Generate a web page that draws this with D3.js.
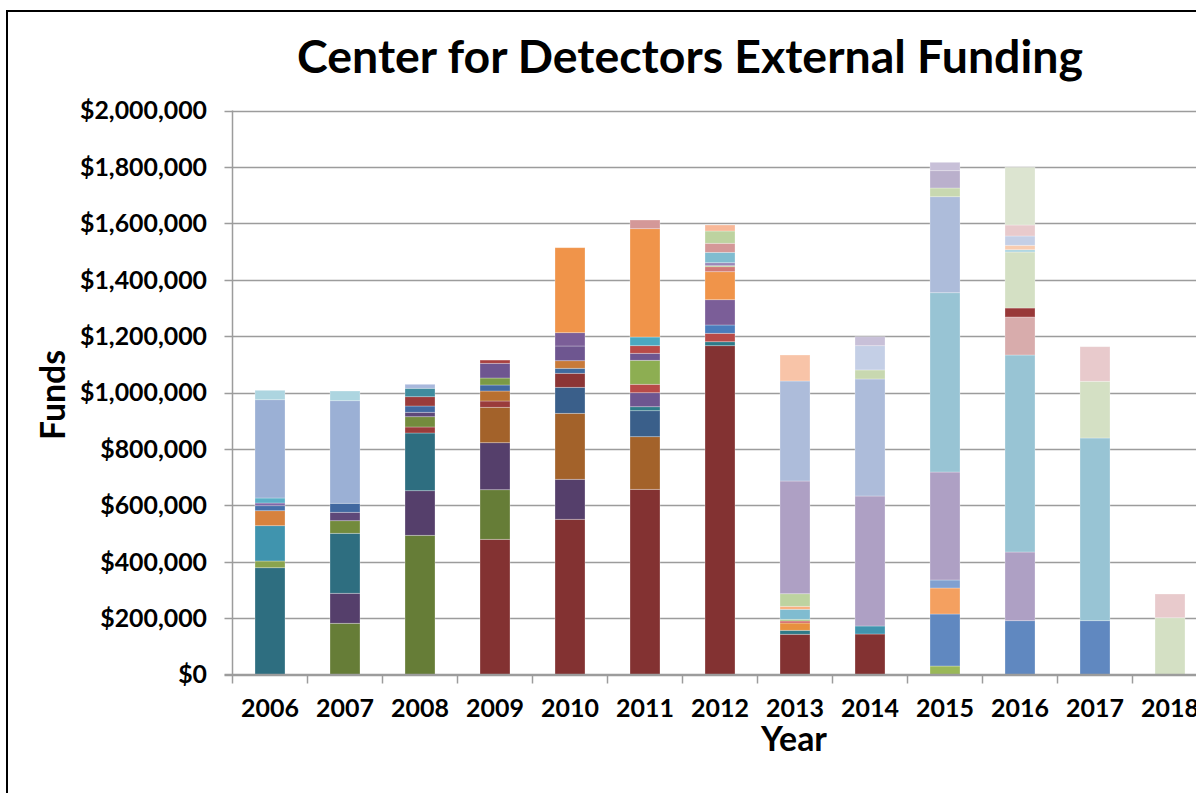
<!DOCTYPE html>
<html>
<head>
<meta charset="utf-8">
<script src="https://cdn.jsdelivr.net/npm/d3@7"></script>
<style>
  html, body { margin: 0; padding: 0; background: #fff; }
  svg { display: block; }
  text { font-family: Lato, "Open Sans", sans-serif; font-weight: 700; fill: #000; }
</style>
</head>
<body>
<svg id="chart" width="1196" height="793"></svg>
<script>
// ---------- DATA ----------
const years = ["2006","2007","2008","2009","2010","2011","2012","2013","2014","2015","2016","2017","2018"];
const yTicks = [0, 200000, 400000, 600000, 800000, 1000000, 1200000, 1400000, 1600000, 1800000, 2000000];

// funding segments per year, bottom to top
const values = [
  [378700, 23800, 125200, 53200, 17700, 9600, 17700, 348600, 33300],
  [181600, 106400, 212700, 44700, 29800, 31900, 363800, 34400],
  [493600, 158200, 204600, 21300, 36500, 15600, 22300, 33000, 29800, 14200],
  [479400, 175900, 166700, 125500, 22400, 35400, 21300, 24800, 52100, 11500],
  [550400, 141800, 234000, 92200, 49700, 17700, 27000, 52100, 47200, 301400],
  [656700, 186600, 92200, 14100, 49700, 29800, 85100, 24800, 27000, 30800, 384100, 30800],
  [1166000, 14100, 29800, 29500, 89700, 99300, 17700, 3500, 10700, 36700, 32100, 43600, 21300],
  [142600, 14100, 25900, 7100, 5900, 35600, 10600, 44700, 399700, 354600, 92200],
  [143600, 28400, 461000, 415000, 32000, 86000, 31900],
  [30100, 184400, 92200, 28400, 382900, 635900, 340400, 30900, 61300, 29800],
  [190800, 243600, 698600, 134700, 31900, 198600, 8200, 15600, 33000, 39000, 204600],
  [190800, 647900, 201000, 122700],
  [201400, 84100]
];

// funding source of each segment (same order as values)
const sources = [
  ["s01","s02","s03","s04","s05","s06","s07","s08","s09"],
  ["s10","s11","s01","s12","s13","s14","s08","s09"],
  ["s10","s11","s01","s15","s12","s13","s14","s15","s16","s17"],
  ["s18","s10","s11","s19","s15","s20","s14","s21","s22","s23"],
  ["s18","s11","s19","s24","s25","s26","s27","s22","s28","s29"],
  ["s18","s19","s24","s30","s22","s31","s32","s22","s31","s33","s29","s34"],
  ["s18","s30","s31","s35","s28","s29","s36","s37","s38","s39","s34","s40","s41"],
  ["s18","s30","s42","s43","s44","s39","s45","s40","s46","s47","s48"],
  ["s18","s03","s46","s47","s49","s50","s51"],
  ["s52","s53","s54","s55","s46","s56","s47","s49","s57","s51"],
  ["s53","s46","s56","s58","s59","s60","s09","s61","s50","s62","s63"],
  ["s53","s56","s60","s62"],
  ["s60","s62"]
];

// ---------- STYLE ----------
const palette = {
  s01:"#2E6E80", s02:"#8AA44E", s03:"#4094AE", s04:"#D7823E", s05:"#4670AA",
  s06:"#8068A8", s07:"#5BB0C8", s08:"#9BB0D5", s09:"#ADD5E0", s10:"#667D37",
  s11:"#553F6B", s12:"#738B3D", s13:"#5E4879", s14:"#4168A0", s15:"#9A3B3B",
  s16:"#3F8C9E", s17:"#A8B8DC", s18:"#833232", s19:"#A3622A", s20:"#B87030",
  s21:"#7A9A46", s22:"#6E5690", s23:"#A84040", s24:"#3A5F8A", s25:"#8C3535",
  s26:"#3F6A9E", s27:"#C87A3A", s28:"#7B5E98", s29:"#F0944A", s30:"#2E7A88",
  s31:"#B84A48", s32:"#8DAE52", s33:"#4AA8C0", s34:"#D49898", s35:"#4A7CBC",
  s36:"#D07A78", s37:"#A0C070", s38:"#9A88B8", s39:"#80BCD0", s40:"#BDD3A0",
  s41:"#F8B898", s42:"#E8903E", s43:"#D06060", s44:"#A8C880", s45:"#F8B080",
  s46:"#AEA0C4", s47:"#ADBCDA", s48:"#F8C4A8", s49:"#C8D8B0", s50:"#C4CFE6",
  s51:"#C8C0D8", s52:"#9AB858", s53:"#6088C0", s54:"#F4A060", s55:"#80A0D0",
  s56:"#98C4D4", s57:"#BAB0CC", s58:"#D8ACAC", s59:"#983838", s60:"#D4E0C4",
  s61:"#F8CCB0", s62:"#E8CACC", s63:"#DCE4D0"
};

// ---------- LAYOUT ----------
const svg = d3.select("#chart");
const plotLeft = 232.5, plotRight = 1207.5, plotTop = 110.5, plotBottom = 674.5;

const x = d3.scaleBand().domain(years).range([plotLeft, plotRight]).paddingInner(0.6).paddingOuter(0.3);
const y = d3.scaleLinear().domain([0, 2000000]).range([plotBottom, plotTop]);

// outer frame
svg.append("rect").attr("x", 7).attr("y", 11).attr("width", 1300).attr("height", 900)
  .attr("fill", "none").attr("stroke", "#000").attr("stroke-width", 2);

// gridlines + y ticks
const grid = svg.append("g").attr("class", "grid");
grid.selectAll("line").data(yTicks).join("line")
  .attr("x1", plotLeft - 8).attr("x2", plotRight)
  .attr("y1", d => Math.round(y(d)) + 0.5).attr("y2", d => Math.round(y(d)) + 0.5)
  .attr("stroke", "#9c9c9c").attr("stroke-width", 1.5);

// y axis line
svg.append("line").attr("x1", plotLeft).attr("x2", plotLeft).attr("y1", plotTop).attr("y2", plotBottom)
  .attr("stroke", "#9c9c9c").attr("stroke-width", 1.5);

// bars
const barsG = svg.append("g");
years.forEach((yr, i) => {
  let cum = 0;
  const segs = values[i].map((v, j) => { const s = { y0: cum, y1: cum + v, src: sources[i][j] }; cum += v; return s; });
  barsG.append("g").selectAll("rect").data(segs).join("rect")
    .attr("x", x(yr))
    .attr("width", x.bandwidth())
    .attr("y", d => y(d.y1))
    .attr("height", d => y(d.y0) - y(d.y1))
    .attr("fill", d => palette[d.src])
    .attr("stroke", "rgba(255,255,255,0.35)")
    .attr("stroke-width", 0.8);
});

// x axis line & ticks
svg.append("line").attr("x1", plotLeft - 8).attr("x2", plotRight).attr("y1", plotBottom).attr("y2", plotBottom)
  .attr("stroke", "#9c9c9c").attr("stroke-width", 1.5);
const step = x.step();
const bounds = d3.range(years.length + 1).map(k => plotLeft + k * step);
svg.append("g").selectAll("line").data(bounds).join("line")
  .attr("x1", d => d).attr("x2", d => d).attr("y1", plotBottom).attr("y2", plotBottom + 9)
  .attr("stroke", "#9c9c9c").attr("stroke-width", 1.5);

// helper: set font size so text matches a target width
function fitSize(sample, target, base) {
  const t = svg.append("text").style("font-size", base + "px").text(sample);
  const w = t.node().getComputedTextLength();
  t.remove();
  return base * target / w;
}

// y tick labels
const fmt = d => "$" + d3.format(",")(d);
const ySize = fitSize("$2,000,000", 127, 20);
svg.append("g").selectAll("text").data(yTicks).join("text")
  .attr("x", 207).attr("y", d => y(d) + ySize * 0.36)
  .attr("text-anchor", "end").style("font-size", ySize + "px")
  .text(fmt);

// x tick labels
const xSize = fitSize("2006", 58, 20);
svg.append("g").selectAll("text").data(years).join("text")
  .attr("x", d => x(d) + x.bandwidth() / 2).attr("y", 717)
  .attr("text-anchor", "middle").style("font-size", xSize + "px")
  .text(d => d);

// title
const titleText = "Center for Detectors External Funding";
const tSize = fitSize(titleText, 786, 40);
svg.append("text").attr("x", 690).attr("y", 73).attr("text-anchor", "middle")
  .style("font-size", tSize + "px").text(titleText);

// axis titles
const fSize = fitSize("Funds", 90, 30);
svg.append("text").attr("transform", "translate(65,395) rotate(-90)").attr("text-anchor", "middle")
  .style("font-size", fSize + "px").text("Funds");
const yrSize = fitSize("Year", 66, 30);
svg.append("text").attr("x", 794).attr("y", 751).attr("text-anchor", "middle")
  .style("font-size", yrSize + "px").text("Year");
</script>
</body>
</html>
